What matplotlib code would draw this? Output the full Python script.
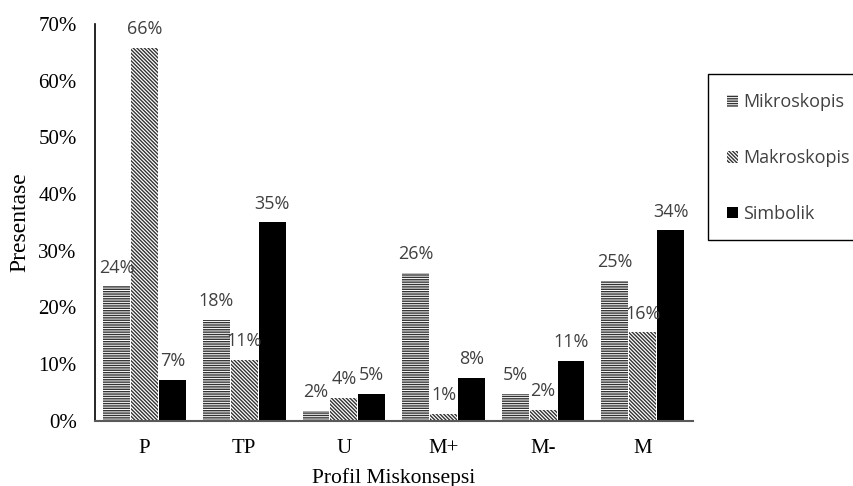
import matplotlib
matplotlib.use("Agg")
import matplotlib.pyplot as plt
import matplotlib.patches as mpatches
from matplotlib.ticker import FuncFormatter
import numpy as np

categories = ["P", "TP", "U", "M+", "M-", "M"]
mikroskopis = [23.7, 17.8, 1.8, 26.1, 4.8, 24.7]
makroskopis = [65.7, 10.8, 4.1, 1.2, 1.9, 15.6]
simbolik = [7.2, 35.0, 4.8, 7.6, 10.6, 33.6]
series_names = ["Mikroskopis", "Makroskopis", "Simbolik"]

plt.rcParams["hatch.linewidth"] = 1.0

SERIF = "Liberation Serif"
SANS = "Open Sans"
LABEL_GRAY = "#404040"

fig = plt.figure(figsize=(8.54, 4.86), dpi=100)
ax = fig.add_axes([0.111, 0.134, 0.700, 0.817])

x = np.arange(len(categories))
w = 0.27
styles = [
    dict(facecolor="white", edgecolor="#333333", hatch="-------", linewidth=0),
    dict(facecolor="white", edgecolor="#333333", hatch="\\" * 9, linewidth=0),
    dict(facecolor="black", edgecolor="black", linewidth=0),
]

for i, (vals, st) in enumerate(zip([mikroskopis, makroskopis, simbolik], styles)):
    pos = x + (i - 1) * (w + 0.01)
    bars = ax.bar(pos, vals, width=w, **st)
    for b, v in zip(bars, vals):
        ax.annotate(f"{v:.0f}%", (b.get_x() + b.get_width() / 2, v),
                    xytext=(0, 7), textcoords="offset points",
                    ha="center", va="bottom", fontsize=13,
                    color=LABEL_GRAY, family=SANS)

ax.set_ylim(0, 70)
ax.set_xlim(-0.5, len(categories) - 0.5)
ax.set_yticks(np.arange(0, 71, 10))
ax.yaxis.set_major_formatter(FuncFormatter(lambda v, _: f"{v:.0f}%"))
ax.set_xticks(x)
ax.set_xticklabels(categories)

for lab in ax.get_xticklabels() + ax.get_yticklabels():
    lab.set_family(SERIF)
    lab.set_fontsize(15)
ax.tick_params(axis="y", length=0, pad=13)
ax.tick_params(axis="x", length=0, pad=13)

ax.spines["top"].set_visible(False)
ax.spines["right"].set_visible(False)
ax.spines["left"].set_color("black")
ax.spines["left"].set_linewidth(1.2)
ax.spines["bottom"].set_color("#595959")
ax.spines["bottom"].set_linewidth(1.5)

ax.set_ylabel("Presentase", family=SERIF, fontsize=17, labelpad=6)
ax.set_xlabel("Profil Miskonsepsi", family=SERIF, fontsize=15.5, labelpad=7)

# legend box, running off the right edge of the figure
frame = mpatches.Rectangle((708 / 854, 1 - 240 / 486), 0.25, (240 - 74) / 486,
                           transform=fig.transFigure, facecolor="white",
                           edgecolor="black", linewidth=1.0, clip_on=False)
fig.patches.append(frame)

handles = [mpatches.Patch(**st) for st in styles]
leg = fig.legend(handles, series_names, loc="upper left",
                 bbox_to_anchor=(711 / 854, 1 - 77 / 486),
                 frameon=False, handlelength=0.6, handleheight=0.6,
                 handletextpad=0.3, labelspacing=2.1,
                 prop=dict(family=SANS, size=13))
for t in leg.get_texts():
    t.set_color(LABEL_GRAY)

fig.savefig("out.png", dpi=100)
